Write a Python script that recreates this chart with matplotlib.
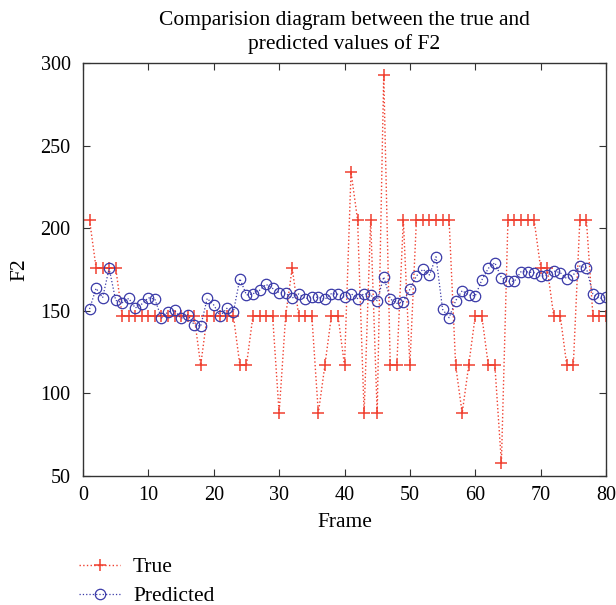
import matplotlib
matplotlib.use("Agg")
import matplotlib.pyplot as plt
import numpy as np

plt.rcParams["font.family"] = ["Liberation Serif", "DejaVu Serif"]

frames = np.arange(1, 81)

true_f2 = [205, 176, 176, 176, 176, 147, 147, 147, 147, 147,
           147, 147, 147, 147, 147, 147, 147, 117, 147, 147,
           147, 147, 147, 117, 117, 147, 147, 147, 147, 88,
           147, 176, 147, 147, 147, 88, 117, 147, 147, 117,
           234, 205, 88, 205, 88, 293, 117, 117, 205, 117,
           205, 205, 205, 205, 205, 205, 117, 88, 117, 147,
           147, 117, 117, 58, 205, 205, 205, 205, 205, 176,
           176, 147, 147, 117, 117, 205, 205, 147, 147, 147]

pred_f2 = [151.1, 163.6, 157.9, 175.7, 156.3, 154.9, 157.5, 151.7, 154.1, 157.9,
           157.0, 145.6, 149.3, 150.3, 145.4, 147.6, 141.6, 140.6, 157.5, 153.5,
           146.8, 151.5, 149.3, 169.4, 159.6, 160.3, 162.4, 166.0, 163.6, 161.0,
           160.6, 157.7, 160.2, 157.4, 158.2, 158.2, 157.0, 160.4, 160.0, 158.2,
           160.4, 157.4, 160.4, 159.6, 156.1, 170.5, 157.2, 154.5, 155.5, 163.0,
           171.1, 175.1, 171.7, 182.7, 150.9, 145.8, 156.1, 162.2, 159.6, 159.0,
           168.6, 175.7, 179.1, 170.0, 167.9, 167.9, 173.7, 173.5, 173.1, 170.9,
           171.5, 174.1, 173.1, 169.4, 171.7, 177.1, 175.9, 160.2, 157.5, 158.2]

fig = plt.figure(figsize=(6.16, 6.05), dpi=100)
ax = fig.add_axes([83 / 616, 1 - 476 / 605, 523 / 616, 413 / 605])

ax.plot(frames, true_f2, linestyle=":", color="#f04030", linewidth=1.0,
        marker="+", markersize=8, markeredgewidth=1.1, label="True")
ax.plot(frames, pred_f2, linestyle=":", color="#3a3aa8", linewidth=0.9,
        marker="o", markersize=7.5, markerfacecolor="none", markeredgewidth=0.9,
        label="Predicted")

ax.set_xlim(0, 80)
ax.set_ylim(50, 300)
ax.set_xticks(np.arange(0, 81, 10))
ax.set_yticks(np.arange(50, 301, 50))
ax.tick_params(direction="in", top=True, right=True, labelsize=14.5, length=5,
               color="#333333")
ax.tick_params(axis="y", pad=9)
ax.tick_params(axis="x", pad=7)
for sp in ax.spines.values():
    sp.set_edgecolor("#333333")
    sp.set_linewidth(1.0)

ax.set_xlabel("Frame", fontsize=15.5, labelpad=6)
ax.set_ylabel("F2", fontsize=15.5, labelpad=8)
ax.set_title("Comparision diagram between the true and\npredicted values of F2",
             fontsize=15.5, pad=10, linespacing=1.3)

ax.legend(loc="upper left", bbox_to_anchor=(-0.032, -0.165), frameon=False,
          fontsize=15.5, handlelength=1.9, handletextpad=0.6, labelspacing=0.42,
          borderaxespad=0.2)

fig.savefig("out.png", dpi=100)
